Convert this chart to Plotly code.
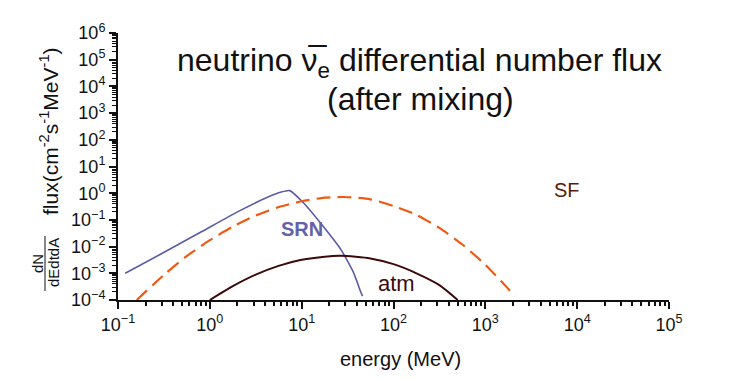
import plotly.graph_objects as go

# ---- data ----
srn_energy = [0.12, 0.3, 0.8, 2.0, 4.3, 6.0, 7.4, 10.5, 17.4, 27.0, 37.0, 44.0, 46.0]
srn_flux = [1.0e-3, 5.5e-3, 3.5e-2, 2.0e-1, 7.2e-1, 1.1, 1.25, 4.3e-1, 5.4e-2, 7.4e-3, 1.0e-3, 2.0e-4, 1.4e-4]

sf_energy = [0.16, 0.316, 0.56, 1.0, 1.78, 3.16, 5.6, 10.0, 17.8, 29.0, 56.0, 100.0, 178.0,
             316.0, 562.0, 1000.0, 1500.0, 2100.0]
sf_flux = [1.0e-4, 8.7e-4, 4.4e-3, 1.74e-2, 5.6e-2, 1.45e-1, 3.0e-1, 5.0e-1, 6.8e-1, 7.2e-1,
           5.9e-1, 3.3e-1, 1.55e-1, 5.0e-2, 1.2e-2, 2.1e-3, 4.9e-4, 1.4e-4]

atm_energy = [1.0, 1.78, 3.16, 5.6, 10.0, 17.8, 27.0, 56.0, 100.0, 178.0, 316.0, 500.0]
atm_flux = [1.0e-4, 3.3e-4, 8.9e-4, 1.9e-3, 3.2e-3, 4.2e-3, 4.5e-3, 3.6e-3, 2.2e-3, 1.0e-3, 3.6e-4, 1.0e-4]

x_tick_vals = [0.1, 1, 10, 100, 1000, 10000, 100000]
x_tick_text = ["10<sup>−1</sup>", "10<sup>0</sup>", "10<sup>1</sup>", "10<sup>2</sup>",
               "10<sup>3</sup>", "10<sup>4</sup>", "10<sup>5</sup>"]
y_tick_vals = [1e-4, 1e-3, 1e-2, 1e-1, 1, 10, 100, 1e3, 1e4, 1e5, 1e6]
y_tick_text = ["10<sup>−4</sup>", "10<sup>−3</sup>", "10<sup>−2</sup>", "10<sup>−1</sup>",
               "10<sup>0</sup>", "10<sup>1</sup>", "10<sup>2</sup>", "10<sup>3</sup>",
               "10<sup>4</sup>", "10<sup>5</sup>", "10<sup>6</sup>"]

x_minor = [m * 10 ** k for k in range(-1, 5) for m in range(2, 10)]
y_minor = [m * 10 ** k for k in range(-4, 6) for m in range(2, 10)]

FONT = "Liberation Sans, Arial, sans-serif"
SRN_C = "#5b5ba6"
SF_C = "#f05a10"
ATM_C = "#3c0a0a"

fig = go.Figure()
fig.add_trace(go.Scatter(x=srn_energy, y=srn_flux, mode="lines",
                         line=dict(color=SRN_C, width=1.6, shape="spline", smoothing=0.5)))
fig.add_trace(go.Scatter(x=sf_energy, y=sf_flux, mode="lines",
                         line=dict(color=SF_C, width=2.2, dash="14px,7px", shape="spline", smoothing=0.6)))
fig.add_trace(go.Scatter(x=atm_energy, y=atm_flux, mode="lines",
                         line=dict(color=ATM_C, width=2, shape="spline", smoothing=0.6)))

OFF = 8  # page body margin
PX0, PX1, PY0, PY1 = 118, 669, 33, 300  # plot area in page pixels
W, H = 747, 379
pw, ph = PX1 - PX0, PY1 - PY0
L, T = PX0 - OFF, PY0 - OFF
R = W - L - pw
B = H - T - ph


def px(xp):
    return (xp - PX0) / pw


def py(yp):
    return (PY1 - yp) / ph


ann = []
ann.append(dict(x=px(419), y=py(62), text="neutrino ν\u0305<sub>e</sub> differential number flux",
                font=dict(size=32, color="#111"), showarrow=False))
ann.append(dict(x=px(420), y=py(99), text="(after mixing)",
                font=dict(size=32, color="#111"), showarrow=False))
ann.append(dict(x=px(567), y=py(190), text="SF", font=dict(size=20, color="#5a1a08"), showarrow=False))
ann.append(dict(x=px(302), y=py(229), text="<b>SRN</b>", font=dict(size=20, color="#6262aa"), showarrow=False))
ann.append(dict(x=px(396), y=py(283), text="atm", font=dict(size=22, color=ATM_C), showarrow=False))
ann.append(dict(x=px(400), y=py(359), text="energy (MeV)", font=dict(size=20, color="#111"), showarrow=False))
ann.append(dict(x=px(49), y=py(131), text="flux(cm<sup>-2</sup>s<sup>-1</sup>MeV<sup>-1</sup>)",
                textangle=-90, font=dict(size=21, color="#111"), showarrow=False))
ann.append(dict(x=px(37), y=py(264), text="dN", textangle=-90,
                font=dict(size=15, color="#111"), showarrow=False))
ann.append(dict(x=px(53), y=py(263), text="dEdtdA", textangle=-90,
                font=dict(size=15, color="#111"), showarrow=False))
for a in ann:
    a["xref"] = "paper"
    a["yref"] = "paper"
    a["xanchor"] = "center"
    a["yanchor"] = "middle"

fig.update_layout(
    width=W, height=H,
    margin=dict(l=L, r=R, t=T, b=B),
    paper_bgcolor="white", plot_bgcolor="white",
    showlegend=False,
    font=dict(family=FONT, color="#111"),
    annotations=ann,
    shapes=[dict(type="line", xref="paper", yref="paper",
                 x0=px(45), x1=px(45), y0=py(236), y1=py(291),
                 line=dict(color="#111", width=1))],
    xaxis=dict(type="log", range=[-1, 5], tickmode="array", tickvals=x_tick_vals,
               ticktext=x_tick_text, ticks="outside", ticklen=7, tickwidth=2,
               tickcolor="#111", showline=True, linecolor="#111", linewidth=2,
               showgrid=False, zeroline=False, tickfont=dict(size=18, color="#111"),
               minor=dict(tickmode="array", tickvals=x_minor, ticks="outside",
                          ticklen=4, tickwidth=1.5, tickcolor="#111", showgrid=False)),
    yaxis=dict(type="log", range=[-4, 6], tickmode="array", tickvals=y_tick_vals,
               ticktext=y_tick_text, ticks="outside", ticklen=7, tickwidth=2,
               tickcolor="#111", showline=True, linecolor="#111", linewidth=2,
               showgrid=False, zeroline=False, tickfont=dict(size=18, color="#111"),
               minor=dict(tickmode="array", tickvals=y_minor, ticks="outside",
                          ticklen=4, tickwidth=1, tickcolor="#111", showgrid=False)),
)

fig.write_html("out.html")
